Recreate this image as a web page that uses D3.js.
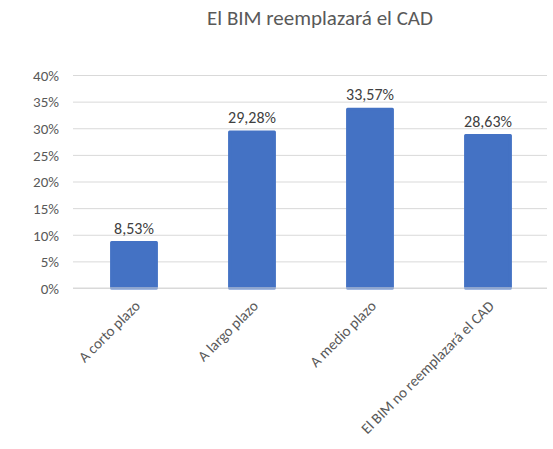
<!DOCTYPE html>
<html>
<head>
<meta charset="utf-8">
<script src="https://cdn.jsdelivr.net/npm/d3@7"></script>
<style>
  html, body { margin: 0; padding: 0; background: #fff; }
  svg text { font-family: Calibri, Carlito, Lato, "Open Sans", sans-serif; }
</style>
</head>
<body>
<svg id="chart" width="553" height="449"></svg>
<script>
// Survey answers: when will BIM replace CAD?
const categories = ["A corto plazo", "A largo plazo", "A medio plazo", "El BIM no reemplazará el CAD"];
const shares = [8.53, 29.28, 33.57, 28.63];
const valueLabels = ["8,53%", "29,28%", "33,57%", "28,63%"];
const yTicks = [0, 5, 10, 15, 20, 25, 30, 35, 40];
const title = "El BIM reemplazará el CAD";

const svg = d3.select("#chart");
const margin = { left: 75, right: 6, top: 75, bottom: 161 };
const W = 553, H = 449;

const x = d3.scaleBand()
  .domain(categories)
  .range([margin.left, W - margin.right])
  .paddingInner(0.62)
  .paddingOuter(0.31);

const y = d3.scaleLinear()
  .domain([0, 40])
  .range([H - margin.bottom, margin.top]);

// Title
svg.append("text")
  .attr("x", 320)
  .attr("y", 25)
  .attr("text-anchor", "middle")
  .attr("font-size", 21)
  .attr("fill", "#595959")
  .text(title);

// Gridlines and y labels
const yAxis = d3.axisLeft(y)
  .tickValues(yTicks)
  .tickSize(-(W - margin.right - margin.left + 2))
  .tickPadding(14)
  .tickFormat(d => d + "%");

const gy = svg.append("g")
  .attr("transform", `translate(${margin.left - 2},0)`)
  .call(yAxis);
gy.select(".domain").remove();
gy.selectAll(".tick line").attr("stroke", "#d9d9d9").attr("stroke-width", 1);
gy.selectAll(".tick text")
  .attr("font-size", 15)
  .attr("fill", "#595959")
  .attr("dy", "0.35em");

// Bars
svg.append("g")
  .selectAll("rect")
  .data(shares)
  .join("rect")
  .attr("x", (d, i) => x(categories[i]))
  .attr("y", d => y(d))
  .attr("width", x.bandwidth())
  .attr("height", d => y(0) - y(d))
  .attr("fill", "#4472C4")
  .attr("stroke", "#4472C4")
  .attr("stroke-width", 3)
  .attr("stroke-linejoin", "round");

// Baseline over bars
svg.append("line")
  .attr("x1", margin.left - 2)
  .attr("x2", W - margin.right)
  .attr("y1", y(0))
  .attr("y2", y(0))
  .attr("stroke", "#d9d9d9")
  .attr("stroke-width", 1);

// Value labels
svg.append("g")
  .selectAll("text")
  .data(shares)
  .join("text")
  .attr("x", (d, i) => x(categories[i]) + x.bandwidth() / 2)
  .attr("y", d => y(d) - 9)
  .attr("text-anchor", "middle")
  .attr("font-size", 16)
  .attr("fill", "#404040")
  .text((d, i) => valueLabels[i]);

// Category labels, rotated
const xAxis = d3.axisBottom(x).tickSize(0).tickPadding(0);
const gx = svg.append("g")
  .attr("transform", `translate(0,${y(0)})`)
  .call(xAxis);
gx.select(".domain").remove();
gx.selectAll(".tick text")
  .attr("font-size", 15)
  .attr("fill", "#595959")
  .attr("text-anchor", "end")
  .attr("dy", 0)
  .attr("transform", "translate(7,19) rotate(-45)");
</script>
</body>
</html>
